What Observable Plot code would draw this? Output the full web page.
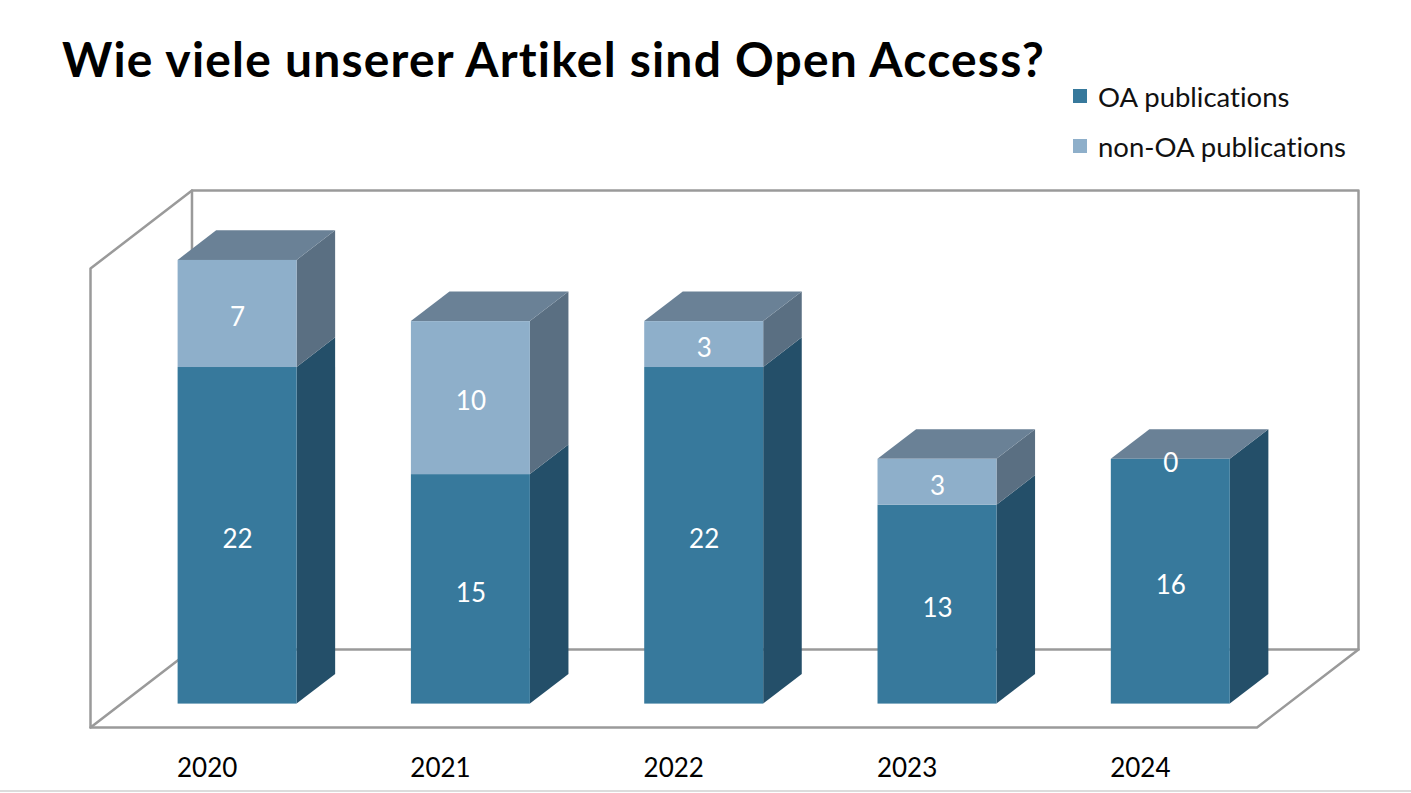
<!DOCTYPE html>
<html>
<head>
<meta charset="utf-8">
<script src="https://cdn.jsdelivr.net/npm/d3@7"></script>
<script src="https://cdn.jsdelivr.net/npm/@observablehq/plot@0.6"></script>
<style>
  html, body { margin: 0; padding: 0; background: #fff; }
  #wrap { position: relative; width: 1411px; height: 793px; overflow: hidden; font-family: Lato, "Open Sans", sans-serif; font-variant-ligatures: none; }
  #title { position: absolute; left: 62px; top: 30px; font-size: 48px; font-weight: 700; color: #000; white-space: nowrap; letter-spacing: 1.2px; }
  #legend { position: absolute; left: 1073px; top: 71px; font-size: 27.5px; color: #111; }
  #legend .item { display: flex; align-items: center; height: 50px; }
  #legend .sw { width: 14px; height: 14px; margin-right: 11px; }
  #chart { position: absolute; left: 0; top: 0; }
  #sep { position: absolute; left: 0; top: 790px; width: 1411px; height: 2px; background: #dcdcdc; }
</style>
</head>
<body>
<div id="wrap">
  <div id="chart"></div>
  <div id="title">Wie viele unserer Artikel sind Open Access?</div>
  <div id="legend"></div>
  <div id="sep"></div>
</div>
<script>
// ---- data ----
const years = ["2020", "2021", "2022", "2023", "2024"];
const oaPublications = [22, 15, 22, 13, 16];
const nonOaPublications = [7, 10, 3, 3, 0];
const seriesNames = ["OA publications", "non-OA publications"];
const yMax = 30;

// ---- styles ----
const frontColors = {"OA publications": "#37799c", "non-OA publications": "#8eafca"};
const sideColors  = {"OA publications": "#244f69", "non-OA publications": "#5a6f82"};
const topColor = "#6a8196";
const wallColor = "#9a9a9a";

// oblique 3D projection expressed in data units
const K = 0.435;   // depth in x (category units)
const M = 5.1;     // depth in y (value units)
const d0 = 0.30, d1 = 0.68;   // bar front / back depth
const halfW = 0.255;          // half bar width (category units)

// stacked segments
const segs = [];
years.forEach((yr, i) => {
  const vals = [oaPublications[i], nonOaPublications[i]];
  let base = 0;
  vals.forEach((v, s) => {
    segs.push({year: yr, i, series: seriesNames[s], value: v, y0: base, y1: base + v, top: s === vals.length - 1});
    base += v;
  });
});

// front faces
const fronts = segs.map(d => ({
  ...d,
  x1: d.i + 0.5 - halfW + d0 * K, x2: d.i + 0.5 + halfW + d0 * K,
  ya: d.y0 + d0 * M, yb: d.y1 + d0 * M,
  ym: (d.y0 + d.y1) / 2 + d0 * M, xm: d.i + 0.5 + d0 * K
}));
// side faces (two points per face)
const sides = [];
segs.forEach((d, k) => {
  for (const dd of [d0, d1]) {
    sides.push({id: k, series: d.series, x: d.i + 0.5 + halfW + dd * K, lo: d.y0 + dd * M, hi: d.y1 + dd * M});
  }
});
// top faces
const tops = [];
segs.filter(d => d.top).forEach((d, k) => {
  for (const dd of [d0, d1]) {
    tops.push({id: k, y: d.y1 + dd * M, x1: d.i + 0.5 - halfW + dd * K, x2: d.i + 0.5 + halfW + dd * K});
  }
});
// walls & floor
const n = years.length;
const walls = [
  // back wall
  [[K, M], [K, yMax + M], [n + K, yMax + M], [n + K, M], [K, M]],
  // left wall
  [[K, M], [0, 0], [0, yMax], [K, yMax + M]],
  // floor
  [[0, 0], [n, 0], [n + K, M]]
].flatMap((pts, id) => pts.map(([x, y]) => ({id, x, y})));

const plot = Plot.plot({
  width: 1411,
  height: 793,
  marginLeft: 90,
  marginRight: 53,
  marginTop: 190,
  marginBottom: 66,
  style: {fontFamily: "Lato, 'Open Sans', sans-serif", background: "transparent", overflow: "visible"},
  x: {domain: [0, n + K], axis: null},
  y: {domain: [0, yMax + M], axis: null},
  marks: [
    Plot.line(walls, {x: "x", y: "y", z: "id", stroke: wallColor, strokeWidth: 2.5, curve: "linear"}),
    Plot.areaY(sides, {x: "x", y1: "lo", y2: "hi", z: "id", fill: d => sideColors[d.series], curve: "linear"}),
    Plot.areaX(tops, {y: "y", x1: "x1", x2: "x2", z: "id", fill: topColor, curve: "linear"}),
    Plot.rect(fronts, {x1: "x1", x2: "x2", y1: "ya", y2: "yb", fill: d => frontColors[d.series]}),
    Plot.text(fronts, {x: "xm", y: "ym", text: d => String(d.value), fill: "white", fontSize: 26, dy: 4}),
    Plot.text(years, {x: (d, i) => i + 0.5, y: () => 0, text: d => d, dy: 41, fontSize: 26, fill: "#000"})
  ]
});
document.getElementById("chart").appendChild(plot);

// legend
const legend = document.getElementById("legend");
seriesNames.forEach(s => {
  const it = document.createElement("div");
  it.className = "item";
  const sw = document.createElement("span");
  sw.className = "sw";
  sw.style.background = frontColors[s];
  const tx = document.createElement("span");
  tx.textContent = s;
  it.appendChild(sw); it.appendChild(tx);
  legend.appendChild(it);
});
</script>
</body>
</html>
